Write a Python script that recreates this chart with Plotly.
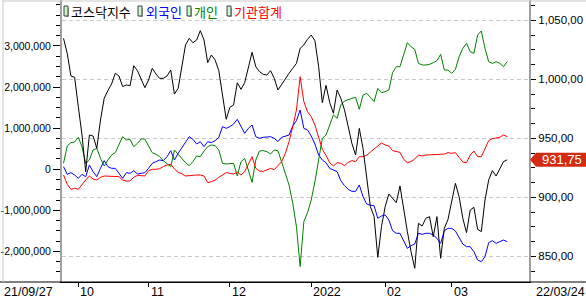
import plotly.graph_objects as go
import pandas as pd

# ---------------- data ----------------
holidays = ["2021-10-04", "2021-10-11", "2021-12-31", "2022-01-31",
            "2022-02-01", "2022-02-02", "2022-03-01", "2022-03-09"]
dates = [d.strftime("%Y-%m-%d") for d in pd.bdate_range("2021-09-27", "2022-03-24")
         if d.strftime("%Y-%m-%d") not in holidays]

series_names = ["코스닥지수", "외국인", "개인", "기관합계"]
series_colors = ["#000000", "#0000ff", "#008000", "#ff0000"]

# KOSDAQ index (right axis)
kosdaq = [1034.7, 1022.0, 1002.8, 1001.7, 976.8, 952.8, 921.7, 952.8, 951.9, 941.5,
          965.5, 983.9, 990.4, 996.0, 1005.1, 1002.8, 993.8, 995.2, 994.6, 1011.5,
          1007.3, 1000.0, 992.9, 999.4, 1009.3, 1004.5, 1000.8, 1000.8, 1002.8, 1007.9,
          987.5, 992.3, 1009.3, 1029.1, 1034.7, 1031.0, 1033.3, 1041.2, 1033.3, 1014.1,
          1020.6, 1016.4, 1007.3, 987.5, 966.1, 976.2, 978.2, 997.1, 991.5, 997.1,
          1010.7, 1022.9, 1010.7, 1006.5, 1004.2, 1003.6, 1007.3, 1000.8, 990.9, 996.0,
          1000.8, 1005.1, 1009.3, 1013.5, 1026.2, 1029.1, 1033.9, 1037.5, 1032.7, 1010.7,
          980.2, 994.9, 980.2, 971.2, 990.9, 983.9, 974.0, 959.9, 945.7, 935.8,
          958.4, 941.5, 917.5, 892.1, 883.6, 849.1, 875.1, 892.1, 902.8, 899.1,
          895.4, 909.6, 889.2, 870.9, 853.9, 839.8, 877.9, 875.7, 882.2, 883.6,
          866.6, 883.6, 848.3, 873.7, 881.3, 896.3, 911.8, 900.5, 882.2, 870.0,
          889.2, 891.5, 872.8, 870.9, 897.7, 914.7, 922.6, 918.0, 923.7, 930.2,
          931.75]

# cumulative net buying, in millions of the left-axis unit
foreign = [0.062, -0.125, -0.084, -0.141, -0.222, -0.125, -0.182, 0.102, -0.060, -0.182,
           0.021, 0.208, 0.062, 0.021, 0.021, -0.117, -0.222, -0.084, -0.101, -0.036,
           -0.117, -0.101, -0.084, 0.021, 0.143, 0.183, 0.224, 0.208, 0.305, 0.451,
           0.224, 0.386, 0.524, 0.670, 0.791, 0.727, 0.613, 0.670, 0.548, 0.670,
           0.646, 0.694, 0.775, 1.035, 0.994, 1.035, 1.100, 1.213, 1.035, 0.873,
           0.994, 1.075, 0.791, 0.751, 0.775, 0.783, 0.791, 0.751, 0.670, 0.775,
           0.808, 0.832, 1.051, 1.181, 1.440, 0.994, 0.954, 0.808, 0.613, 0.345,
           0.224, 0.159, 0.021, -0.019, -0.060, -0.279, -0.401, -0.490, -0.539, -0.539,
           -0.384, -0.668, -0.847, -0.879, -0.888, -1.195, -1.139, -1.114, -1.236, -1.496,
           -1.560, -1.560, -1.763, -1.926, -1.861, -1.820, -1.560, -1.585, -1.560, -1.560,
           -1.601, -1.682, -1.804, -1.496, -1.440, -1.440, -1.504, -1.682, -1.820, -1.885,
           -1.885, -2.007, -2.210, -2.250, -2.129, -1.788, -1.739, -1.804, -1.771, -1.723,
           -1.763]

individual = [0.143, 0.564, 0.646, 0.662, 0.775, 0.548, 0.143, 0.224, 0.467, 0.508,
              0.264, 0.078, 0.224, 0.345, 0.402, 0.589, 0.791, 0.710, 0.727, 0.548,
              0.629, 0.735, 0.735, 0.564, 0.402, 0.362, 0.305, 0.208, 0.143, 0.062,
              0.467, 0.362, 0.248, 0.159, 0.086, 0.183, 0.321, 0.305, 0.443, 0.548,
              0.589, 0.573, 0.467, 0.143, 0.127, 0.127, 0.143, -0.165, 0.183, 0.264,
              -0.019, -0.320, 0.224, 0.443, 0.451, 0.427, 0.370, 0.467, 0.451, 0.183,
              -0.060, -0.384, -0.831, -1.398, -2.371, -1.277, -1.058, -0.749, -0.303, 0.224,
              0.751, 0.832, 1.100, 1.319, 1.238, 1.562, 1.659, 1.700, 1.724, 1.748,
              1.457, 1.805, 1.846, 1.748, 1.643, 1.967, 1.862, 1.886, 1.927, 2.348,
              2.494, 2.494, 2.818, 3.078, 2.981, 2.916, 2.575, 2.535, 2.535, 2.551,
              2.591, 2.640, 2.794, 2.413, 2.413, 2.332, 2.429, 2.737, 2.940, 3.062,
              2.859, 2.818, 3.265, 3.363, 2.940, 2.616, 2.575, 2.616, 2.575, 2.494,
              2.616]

institution = [-0.141, -0.368, -0.490, -0.466, -0.490, -0.368, -0.263, -0.166, -0.239, -0.263,
               -0.198, -0.166, -0.166, -0.166, -0.166, -0.182, -0.263, -0.287, -0.287, -0.198,
               -0.149, -0.166, -0.166, -0.036, -0.003, -0.003, 0.013, 0.062, 0.102, 0.118,
               0.005, -0.076, -0.109, -0.166, -0.166, -0.149, -0.141, -0.141, -0.166, -0.328,
               -0.304, -0.263, -0.198, -0.141, -0.084, -0.101, -0.117, -0.068, -0.141, -0.060,
               0.126, 0.305, 0.021, -0.044, -0.052, -0.019, 0.021, -0.011, 0.078, 0.183,
               0.386, 0.669, 1.035, 1.440, 2.251, 1.643, 1.400, 1.278, 1.075, 0.792,
               0.483, 0.337, 0.159, 0.078, 0.159, 0.143, 0.086, 0.167, 0.208, 0.183,
               0.305, 0.305, 0.337, 0.418, 0.491, 0.548, 0.637, 0.589, 0.564, 0.451,
               0.427, 0.410, 0.240, 0.159, 0.183, 0.248, 0.345, 0.321, 0.345, 0.345,
               0.345, 0.354, 0.362, 0.370, 0.402, 0.386, 0.402, 0.289, 0.175, 0.159,
               0.345, 0.443, 0.305, 0.305, 0.508, 0.694, 0.743, 0.751, 0.775, 0.832,
               0.792]

month_ticks = ["2021-10-01", "2021-11-01", "2021-12-01", "2022-01-03", "2022-02-03", "2022-03-02"]
month_labels = ["10", "11", "12", "2022", "02", "03"]
start_label = "21/09/27"
end_label = "22/03/24"

left_ticks = [-2, -1, 0, 1, 2, 3]
left_labels = ["-2,000,000", "-1,000,000", "0", "1,000,000", "2,000,000", "3,000,000"]
right_ticks = [850, 900, 950, 1000, 1050]
right_labels = ["850,00", "900,00", "950,00", "1,000,00", "1,050,00"]
last_label = "931,75"

# ---------------- figure ----------------
TFONT = "Liberation Sans, Arial, sans-serif"
KFONT = "Noto Sans CJK KR, sans-serif"
W, H = 586, 300
ML, MR, MT, MB = 62, 57, 0, 18
PW = W - ML - MR
PH = H - MT - MB

fig = go.Figure()
fig.add_trace(go.Scatter(x=dates, y=kosdaq, yaxis="y2", mode="lines",
                         line=dict(color=series_colors[0], width=1), name=series_names[0]))
for vals, name, col in [(foreign, series_names[1], series_colors[1]),
                        (individual, series_names[2], series_colors[2]),
                        (institution, series_names[3], series_colors[3])]:
    fig.add_trace(go.Scatter(x=dates, y=vals, yaxis="y", mode="lines",
                             line=dict(color=col, width=1), name=name))

annotations = []
for t, lab in zip(month_ticks, month_labels):
    annotations.append(dict(x=t, xref="x", y=0, yref="paper", yshift=-10, text=lab,
                            showarrow=False, xanchor="left", yanchor="middle", xshift=0,
                            font=dict(family=TFONT, size=12.5, color="black")))
annotations.append(dict(x=(2 - ML) / PW, xref="paper", y=0, yref="paper", yshift=-10,
                        text=start_label, showarrow=False, xanchor="left", yanchor="middle",
                        font=dict(family=TFONT, size=12.5, color="black")))
annotations.append(dict(x=(587 - ML) / PW, xref="paper", y=0, yref="paper", yshift=-10,
                        text=end_label, showarrow=False, xanchor="right", yanchor="middle",
                        font=dict(family=TFONT, size=12.5, color="black")))

# legend (text + small icons)
legend_x = [70, 145, 193, 233]
icon_x = [64, 138, 187, 227]
shapes = []
for name, col, tx, ix in zip(series_names, series_colors, legend_x, icon_x):
    annotations.append(dict(x=(tx - 1 - ML) / PW, xref="paper", y=1, yref="paper", yshift=-11,
                            text=name, showarrow=False, xanchor="left", yanchor="middle",
                            font=dict(family=KFONT, size=13, color=col)))
    a = ix - ML
    shapes.append(dict(type="rect", xref="paper", xsizemode="pixel", xanchor=0,
                       yref="paper", ysizemode="pixel", yanchor=1,
                       x0=a + 2, x1=a + 5, y0=-8, y1=-17, fillcolor="#a8a8a8",
                       line=dict(width=0)))
    shapes.append(dict(type="rect", xref="paper", xsizemode="pixel", xanchor=0,
                       yref="paper", ysizemode="pixel", yanchor=1,
                       x0=a, x1=a + 4, y0=-6, y1=-16, fillcolor="#c8f8c8",
                       line=dict(color="#404040", width=1)))

# last value tag
shapes.append(dict(type="path", xref="paper", xsizemode="pixel", xanchor=1,
                   yref="y2", ysizemode="pixel", yanchor=kosdaq[-1],
                   path="M 1,0 L 7,7 L 58,7 L 58,-7 L 7,-7 Z",
                   fillcolor="#d42a10", line=dict(width=0)))
annotations.append(dict(x=1, xref="paper", xshift=33, y=kosdaq[-1], yref="y2",
                        text=last_label, showarrow=False, xanchor="center", yanchor="middle",
                        font=dict(family=TFONT, size=13, color="white")))

# full-width baseline and light frame
shapes.append(dict(type="line", xref="paper", yref="paper", x0=-ML / PW, x1=1 + MR / PW,
                   y0=0, y1=0, line=dict(color="black", width=1)))
shapes.append(dict(type="line", xref="paper", yref="paper", x0=-(ML - 3) / PW, x1=-(ML - 3) / PW,
                   y0=0, y1=1, line=dict(color="#c8c8c8", width=1)))
shapes.append(dict(type="line", xref="paper", yref="paper", x0=-(ML - 3) / PW, x1=1 + MR / PW,
                   y0=1 - 1 / PH, y1=1 - 1 / PH, line=dict(color="#c8c8c8", width=1)))

fig.update_layout(
    width=W, height=H, margin=dict(l=ML, r=MR, t=MT, b=MB, autoexpand=False),
    paper_bgcolor="white", plot_bgcolor="white", showlegend=False,
    xaxis=dict(type="category", range=[-0.41, 125.9], showgrid=False, zeroline=False,
               automargin=False,
               showline=True, linecolor="black", linewidth=1,
               ticks="outside", ticklen=4, tickcolor="black", tickwidth=1,
               tickmode="array", tickvals=month_ticks, showticklabels=False),
    yaxis=dict(range=[-2.745, 4.117], tickmode="array", tickvals=left_ticks, ticktext=left_labels,
               automargin=False,
               ticks="outside", ticklen=7, tickcolor="black", tickwidth=1,
               showline=True, linecolor="#a0a0a0", linewidth=2,
               showgrid=False, zeroline=False,
               tickfont=dict(family=TFONT, size=10.5, color="black"),
               minor=dict(ticks="outside", ticklen=4, tickcolor="black", tickwidth=1,
                          tickmode="linear", tick0=0, dtick=0.25, showgrid=False)),
    yaxis2=dict(overlaying="y", side="right", range=[828.2, 1067.2],
                automargin=False,
                tickmode="array", tickvals=right_ticks, ticktext=right_labels,
                ticks="outside", ticklen=5, tickcolor="black", tickwidth=1,
                showline=True, linecolor="#a0a0a0", linewidth=2,
                showgrid=True, gridcolor="#c8c8c8", gridwidth=1, griddash="4px,3px",
                zeroline=False,
                tickfont=dict(family=TFONT, size=11.5, color="black"),
                minor=dict(ticks="outside", ticklen=4, tickcolor="black", tickwidth=1,
                           tickmode="linear", tick0=850, dtick=12.5, showgrid=False)),
    annotations=annotations, shapes=shapes,
)

fig.write_html("out.html")
